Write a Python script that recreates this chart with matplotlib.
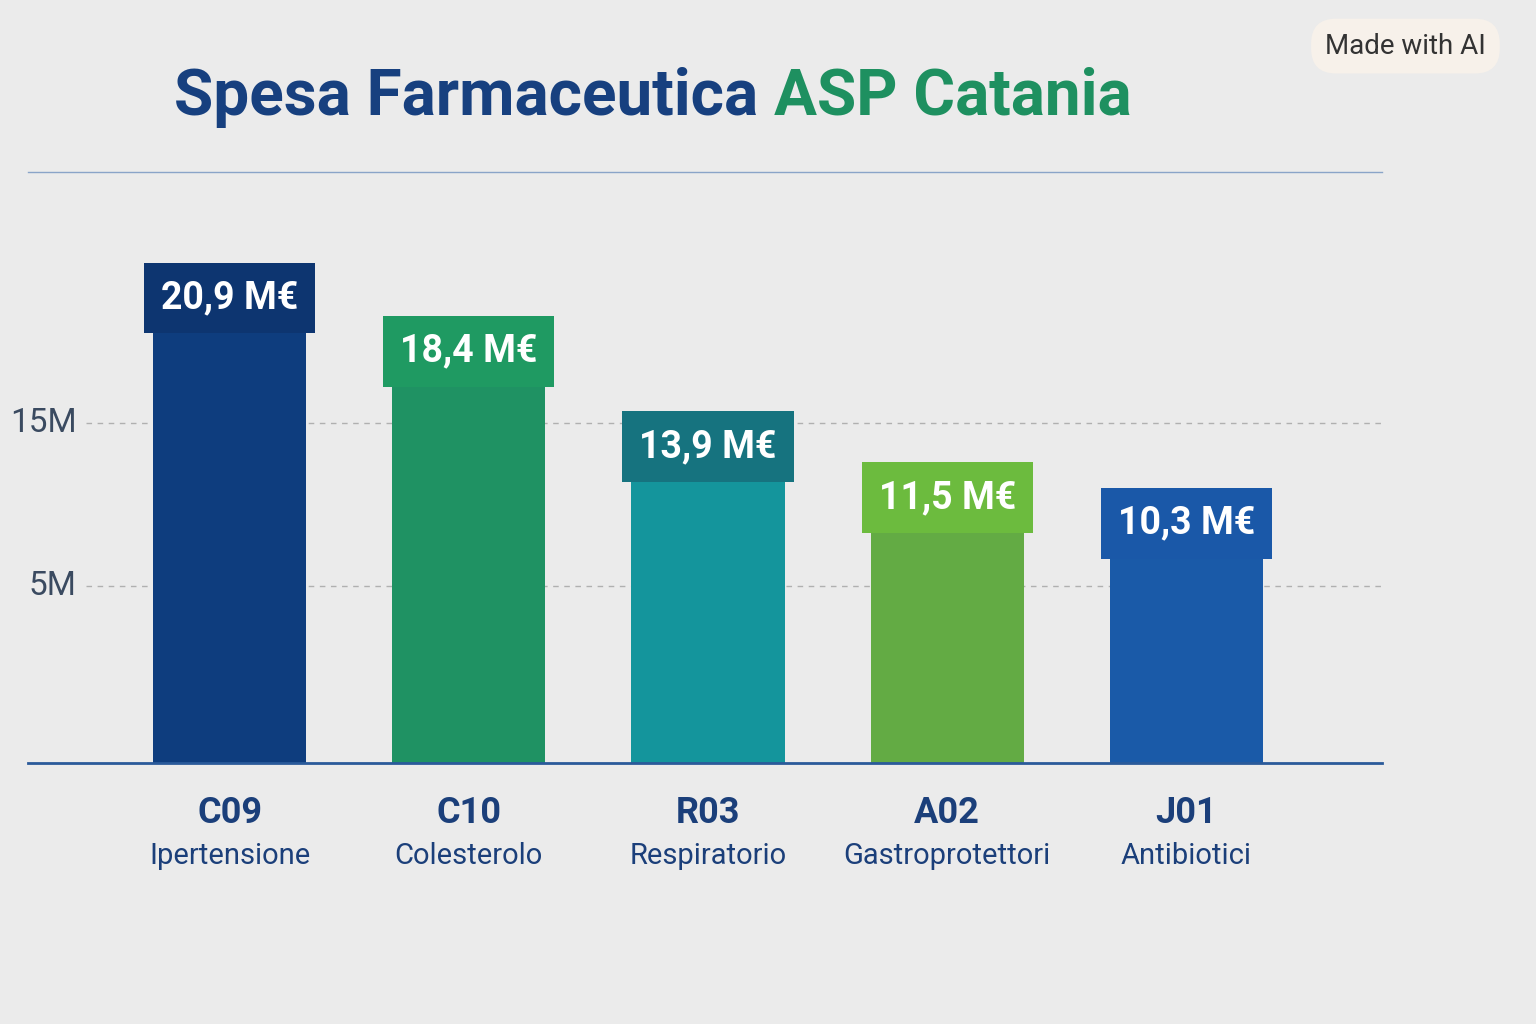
import matplotlib
matplotlib.use("Agg")
import matplotlib.pyplot as plt

codes = ["C09", "C10", "R03", "A02", "J01"]
names = ["Ipertensione", "Colesterolo", "Respiratorio", "Gastroprotettori", "Antibiotici"]
values = [20.9, 18.4, 13.9, 11.5, 10.3]
labels = ["20,9", "18,4", "13,9", "11,5", "10,3"]
bar_colors = ["#0e3d7e", "#1f9263", "#14959c", "#63ab44", "#1a5aa8"]
box_colors = ["#0d3570", "#1f9a62", "#16737f", "#6cbb3e", "#1a58a8"]
tick_vals = [8.3, 16.0]
tick_labels = ["5M", "15M"]

bg = "#ebebeb"
fig = plt.figure(figsize=(15.36, 10.24), dpi=100, facecolor=bg)
ax = fig.add_axes([0.018, 0.255, 0.882, 0.577], facecolor=bg)
x = range(len(values))
ax.bar(x, values, width=0.64, color=bar_colors, zorder=2)
ax.set_xlim(-0.845, 4.82)
ax.set_ylim(0, 27.8)
for v in tick_vals:
    ax.plot([-0.6, 4.82], [v, v], color="#b0b0b0", ls=(0, (4, 4)), lw=1, zorder=1)
for s in ["top", "right", "left"]:
    ax.spines[s].set_visible(False)
ax.spines["bottom"].set_color("#2a5a9a")
ax.spines["bottom"].set_linewidth(2)
ax.set_yticks([])
ax.set_xticks([])
for v, t in zip(tick_vals, tick_labels):
    ax.text(-0.64, v, t, fontsize=24, color="#3a4a60", ha="right", va="center",
            family="Roboto", zorder=3)

for i, (v, l) in enumerate(zip(values, labels)):
    ax.text(i, v + 0.1, l + " M€", ha="center", va="bottom", fontsize=27,
            fontweight="bold", color="white", zorder=4, family="Roboto",
            bbox=dict(boxstyle="square,pad=0.45", fc=box_colors[i], ec="none"))
    ax.text(i, -1.5, codes[i], ha="center", va="top", fontsize=26,
            fontweight="bold", color="#1b3f7a", family="Roboto", clip_on=False)
    ax.text(i, -3.7, names[i], ha="center", va="top", fontsize=21,
            color="#1b3f7a", family="Roboto", clip_on=False)

t1 = fig.text(0.113, 0.905, "Spesa Farmaceutica ", fontsize=46, fontweight="bold",
              color="#17407f", va="center", ha="left", family="Roboto")
fig.canvas.draw()
fig.text(0, 0, "ASP Catania", fontsize=46, fontweight="bold", color="#1e9060",
         va="center", ha="left", family="Roboto",
         transform=matplotlib.transforms.offset_copy(fig.transFigure, fig=fig, x=0, y=0))
# reposition second part right after first
r = fig.canvas.get_renderer()
bb = t1.get_window_extent(r)
fig.texts[-1].set_position((bb.x1 / fig.bbox.width, 0.905))
fig.add_artist(plt.Line2D([0.018, 0.9], [0.832, 0.832], color="#8aa4c8", lw=1))
fig.text(0.915, 0.955, "Made with AI", fontsize=20, color="#333333", ha="center", va="center",
         family="Roboto",
         bbox=dict(boxstyle="round,pad=0.5,rounding_size=0.9", fc="#f7f1ea", ec="none"))
fig.savefig("out.png", facecolor=bg)
